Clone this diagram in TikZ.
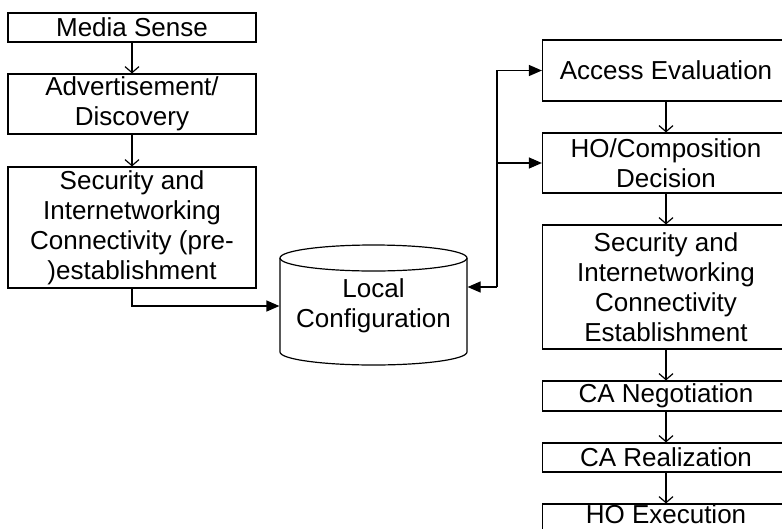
\documentclass[tikz,border=0pt]{standalone}
\usepackage{fontspec}
\setmainfont{Liberation Sans}
\usetikzlibrary{arrows.meta}
\begin{document}
\begin{tikzpicture}[x=1pt,y=-1pt,line width=1.2pt,
  txt/.style={align=center,inner sep=0pt,font=\fontsize{26}{30}\selectfont},
  lbox/.style={txt,draw,minimum width=248pt},
  rbox/.style={txt,draw,minimum width=247pt},
  thin/.style={-{Straight Barb[length=6pt,width=14pt]}},
  fat/.style={-{Triangle[length=13pt,width=11pt]}}]
\useasboundingbox (0,0) rectangle (782,528);
\clip (0,0) rectangle (782,528);
\node[lbox,minimum height=29pt] (ms) at (132,27.5) {Media Sense};
\node[lbox,minimum height=60pt] (ad) at (132,104) {Advertisement/\\Discovery};
\node[lbox,minimum height=121pt] (sec1) at (132,227.5) {Security and\\Internetworking\\Connectivity (pre-\\)establishment};
\node[txt,minimum width=187pt,minimum height=120pt] (lc) at (373.5,306) {Local\\Configuration};
\draw (373.5,258) ellipse [x radius=93.5pt,y radius=13pt];
\draw (280,258) -- (280,352) arc [start angle=180,end angle=360,x radius=93.5pt,y radius=13pt] -- (467,258);
\node[rbox,minimum height=61pt] (ae) at (666,70.5) {Access Evaluation};
\node[rbox,minimum height=60pt] (hd) at (666,163) {HO/Composition\\Decision};
\node[rbox,minimum height=124pt] (sec2) at (666,287) {Security and\\Internetworking\\Connectivity\\Establishment};
\node[rbox,minimum height=30pt] (neg) at (666,396) {CA Negotiation};
\node[rbox,minimum height=29pt] (real) at (666,457.5) {CA Realization};
\node[rbox,minimum height=31pt,text depth=10pt] (exe) at (666,519.5) {HO Execution};
\coordinate (junc) at (497,287);
\draw[thin] (ms) -- (ad);
\draw[thin] (ad) -- (sec1);
\draw[thin] (ae) -- (hd);
\draw[thin] (hd) -- (sec2);
\draw[thin] (sec2) -- (neg);
\draw[thin] (neg) -- (real);
\draw[thin] (real) -- (exe);
\draw[fat] (sec1.south) |- (lc.west);
\draw[fat] (junc) -- (lc.east |- junc);
\draw[fat] (junc) |- (ae.west);
\draw[fat] (junc |- hd.west) -- (hd.west);
\end{tikzpicture}
\end{document}
